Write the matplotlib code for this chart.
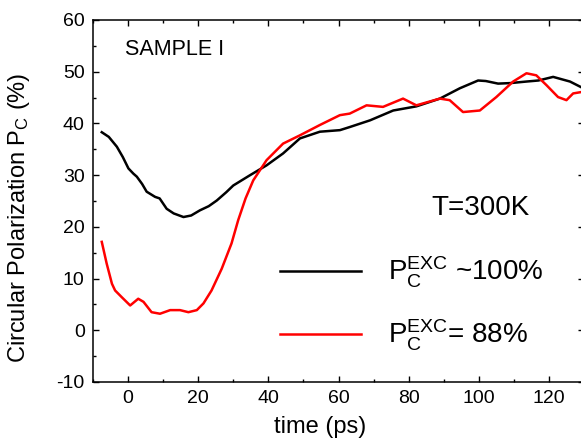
import matplotlib
matplotlib.use('Agg')
import matplotlib.pyplot as plt
from matplotlib.ticker import MultipleLocator

plt.rcParams['font.family'] = 'Liberation Sans'
plt.rcParams['mathtext.fontset'] = 'custom'
plt.rcParams['mathtext.rm'] = 'Liberation Sans'
plt.rcParams['mathtext.it'] = 'Liberation Sans:italic'
plt.rcParams['axes.unicode_minus'] = False

# black curve, P_C^EXC ~100%
t_black = [-7.5, -5.5, -3.2, -1.5, 0.1, 1.5, 2.5, 4, 5.3, 7.7, 9, 11, 13, 15.8, 18,
           20.5, 23, 25.3, 28, 30, 34.8, 39.5, 44.2, 49, 54.7, 60.4, 63.2, 69, 75.6,
           82.2, 88.9, 94.6, 99.8, 102, 105.5, 109, 113.6, 117, 121.2, 126, 129.5]
pc_black = [38.3, 37.4, 35.5, 33.5, 31.3, 30.3, 29.7, 28.3, 26.8, 25.8, 25.5, 23.5,
            22.6, 21.9, 22.2, 23.2, 24, 25.1, 26.7, 28.0, 30, 31.9, 34.2, 37.1, 38.4,
            38.7, 39.3, 40.6, 42.5, 43.3, 44.8, 46.8, 48.3, 48.2, 47.7, 47.8, 48.1,
            48.3, 49.0, 48.1, 46.9]

# red curve, P_C^EXC = 88%
t_red = [-7.5, -6.1, -4.6, -3.7, -1.8, 0.6, 2.9, 4.4, 6.7, 9.1, 12, 14.8, 17.2, 19.6,
         21.5, 23.8, 26.7, 29.5, 31.4, 33.5, 35.7, 39.5, 44.2, 49, 54.7, 60.4, 63.2,
         68, 72.7, 78.4, 82.2, 88.9, 91.7, 95.5, 100.3, 105, 109.8, 113.6, 116.4,
         119.3, 122.6, 125, 126.9, 129.5]
pc_red = [17.1, 12.9, 9.0, 7.7, 6.4, 4.8, 6.1, 5.5, 3.5, 3.2, 3.9, 3.9, 3.5, 3.9, 5.2,
          7.7, 11.9, 16.8, 21.3, 25.5, 29, 32.9, 36.1, 37.7, 39.7, 41.6, 41.9, 43.5,
          43.2, 44.8, 43.5, 44.8, 44.5, 42.2, 42.5, 45.1, 48.1, 49.7, 49.3, 47.4,
          45.1, 44.5, 45.8, 46.1]

W, H = 581, 446
fig = plt.figure(figsize=(W / 100, H / 100), dpi=100)
# the right spine sits just past the picture edge, as in the original
ax = fig.add_axes([93 / W, 64 / H, (584 - 93) / W, 362 / H])

ax.plot(t_black, pc_black, color='black', lw=1.8,
        label=r'$\mathrm{P_C^{EXC}}$ ~100%')
ax.plot(t_red, pc_red, color='red', lw=1.8,
        label=r'$\mathrm{P_C^{EXC}}$= 88%')

ax.set_xlim(-10, 130)
ax.set_ylim(-10, 60)
ax.xaxis.set_major_locator(MultipleLocator(20))
ax.xaxis.set_minor_locator(MultipleLocator(10))
ax.yaxis.set_major_locator(MultipleLocator(10))
ax.yaxis.set_minor_locator(MultipleLocator(5))
ax.tick_params(which='both', direction='in', top=True, right=True, labelsize=14, width=1)
ax.tick_params(which='major', length=4.5, pad=6)
ax.tick_params(which='minor', length=2.5)
for s in ax.spines.values():
    s.set_linewidth(1.1)

ax.set_xlabel('time (ps)', fontsize=17)
ax.set_ylabel(r'Circular Polarization P$_\mathrm{C}$ (%)', fontsize=17)
ax.xaxis.set_label_coords(0.462, -0.095)
ax.yaxis.set_label_coords(-0.124, 0.453)

ax.text(-1, 54.2, 'SAMPLE I', fontsize=15.5, va='center')
ax.text(86.5, 23.6, 'T=300K', fontsize=20, va='center')

ax.legend(loc='upper left', bbox_to_anchor=(0.33, 0.42), frameon=False, fontsize=20,
          handlelength=2.9, handletextpad=1.0, labelspacing=1.0)

fig.savefig('out.png', dpi=100)
